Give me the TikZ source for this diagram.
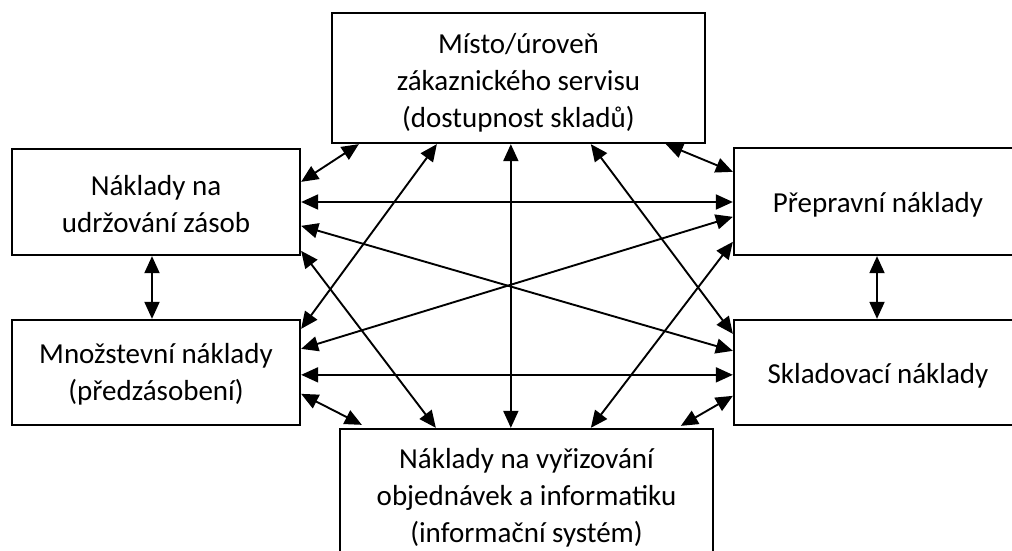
\documentclass[tikz,border=0pt]{standalone}
\usepackage{fontspec}
\setmainfont{Carlito}
\usetikzlibrary{arrows.meta,calc}
\begin{document}
\begin{tikzpicture}[x=1pt,y=-1pt,
  box/.style={draw, line width=2.3pt, rectangle, inner sep=0pt},
  lbl/.style={align=center, font=\fontsize{29}{37}\selectfont, inner sep=0pt},
  link/.style={line width=1.9pt, {Triangle[length=17pt,width=15pt]}-{Triangle[length=17pt,width=15pt]}}]
\clip (0,0) rectangle (1012,551);
\useasboundingbox (0,0) rectangle (1012,551);
% the six cost areas
\node[box, minimum width=373pt, minimum height=130pt] (T) at (518.5,78) {};
\node[box, minimum width=288pt, minimum height=106pt] (A) at (156,202) {};
\node[box, minimum width=288pt, minimum height=105pt] (B) at (156,372.5) {};
\node[box, minimum width=288pt, minimum height=107pt] (C) at (878,201.5) {};
\node[box, minimum width=288pt, minimum height=105pt] (D) at (878,372.5) {};
\node[box, minimum width=373pt, minimum height=130pt] (E) at (526.5,494) {};
% captions
\node[lbl] (Tt) at ($(T.center)+(0,5)$) {Místo/úroveň\\zákaznického servisu\\(dostupnost skladů)};
\node[lbl] (At) at ($(A.center)+(0,2)$) {Náklady na\\udržování zásob};
\node[lbl] (Bt) at ($(B.center)+(0,2)$) {Množstevní náklady\\(předzásobení)};
\node[lbl] (Ct) at ($(C.center)+(0,3)$) {Přepravní náklady};
\node[lbl] (Dt) at ($(D.center)+(0,3)$) {Skladovací náklady};
\node[lbl] (Et) at ($(E.center)+(0,4)$) {Náklady na vyřizování\\objednávek a informatiku\\(informační systém)};
% mutual dependencies
\draw[link] ($(T.south west)+(28,0)$)  -- ($(A.north east)+(0,34)$);
\draw[link] ($(T.south west)+(106,0)$) -- ($(B.north east)+(0,10)$);
\draw[link] ($(T.south west)+(180,0)$) -- ($(E.north west)+(172,0)$);
\draw[link] ($(T.south west)+(260,0)$) -- ($(D.north west)+(0,15)$);
\draw[link] ($(T.south west)+(335,0)$) -- ($(C.north west)+(0,25)$);
\draw[link] (A.east) -- (A.east -| C.west);
\draw[link] ($(A.north east)+(0,78)$)  -- ($(D.north west)+(0,32)$);
\draw[link] ($(B.north east)+(0,30)$)  -- ($(C.north west)+(0,70)$);
\draw[link] ($(B.north east)+(0,56)$)  -- ($(D.north west)+(0,56)$);
\draw[link] ($(A.north east)+(0,103)$) -- ($(E.north west)+(97,0)$);
\draw[link] ($(C.north west)+(0,95)$)  -- ($(E.north west)+(252,0)$);
\draw[link] ($(A.south)+(-4,0)$) -- ($(B.north)+(-4,0)$);
\draw[link] ($(C.south)+(-1,0)$) -- ($(D.north)+(-1,0)$);
\draw[link] ($(B.north east)+(0,75)$)  -- ($(E.north west)+(23,-3)$);
\draw[link] ($(D.north west)+(0,77)$)  -- ($(E.north west)+(342,-2)$);
\end{tikzpicture}
\end{document}
